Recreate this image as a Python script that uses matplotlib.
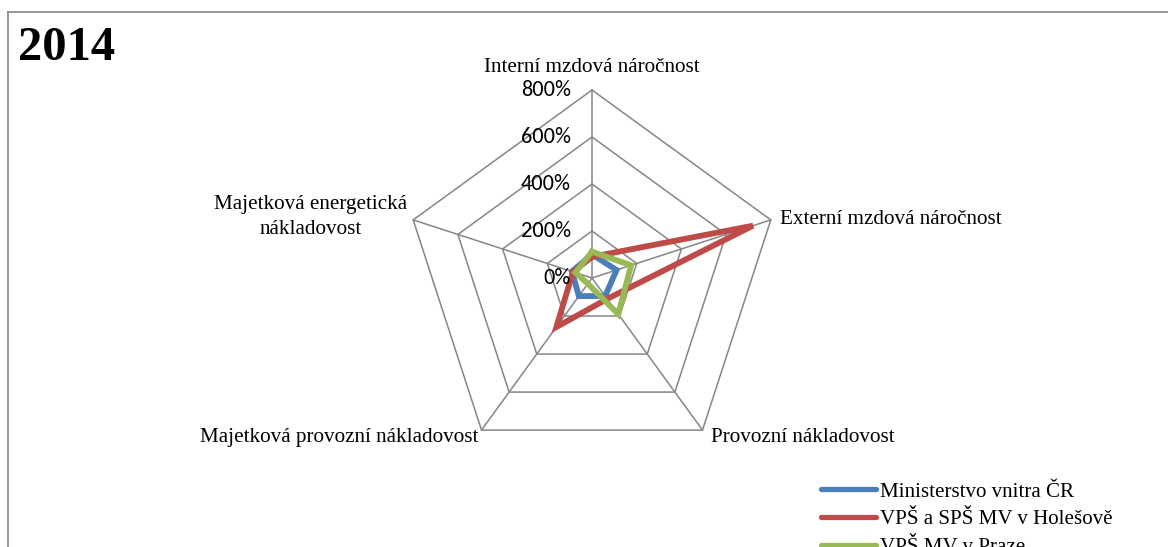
import numpy as np
import matplotlib
matplotlib.use("Agg")
import matplotlib.pyplot as plt
from matplotlib.lines import Line2D

# ---- data ----
categories = ["Interní mzdová náročnost", "Externí mzdová náročnost",
              "Provozní nákladovost", "Majetková provozní nákladovost",
              "Majetková energetická\nnákladovost"]
series_names = ["Ministerstvo vnitra ČR", "VPŠ a SPŠ MV v Holešově", "VPŠ MV v Praze"]
mv_cr = [100, 110, 95, 95, 90]
holesov = [90, 720, 110, 258, 85]
praha = [112, 175, 190, 30, 75]
ticks = [0, 200, 400, 600, 800]
tick_labels = ["0%", "200%", "400%", "600%", "800%"]
title = "2014"

colors = ["#4A7EBB", "#BE4B48", "#98B954"]
grid_color = "#868686"
serif = ["Liberation Serif", "DejaVu Serif"]
sans = ["Carlito", "Lato", "DejaVu Sans"]

W, H = 1168, 547
fig = plt.figure(figsize=(W / 100, H / 100), dpi=100)

cx, cy, R = 592, 278, 188
ax = fig.add_axes([(cx - R) / W, (H - cy - R) / H, 2 * R / W, 2 * R / H], projection="polar")
ax.set_theta_offset(np.pi / 2)
ax.set_theta_direction(-1)
ax.set_ylim(0, 800)
ax.set_axis_off()

n = len(categories)
theta = np.arange(n) * 2 * np.pi / n
theta_closed = np.append(theta, theta[0])

# polygon grid
for t in ticks[1:]:
    ax.plot(theta_closed, [t] * (n + 1), color=grid_color, lw=1.1, zorder=1, clip_on=False)
for th in theta:
    ax.plot([th, th], [0, ticks[-1]], color=grid_color, lw=1.1, zorder=1, clip_on=False)

# series
for vals, col, name in zip([mv_cr, holesov, praha], colors, series_names):
    v = list(vals) + [vals[0]]
    ax.plot(theta_closed, v, color=col, lw=4.2, label=name, zorder=3,
            solid_joinstyle="miter", clip_on=False)

# radial tick labels
for t, lab in zip(ticks, tick_labels):
    ax.annotate(lab, xy=(0, t), xytext=(-21, 0), textcoords="offset pixels",
                ha="right", va="center", fontsize=16, family=sans, zorder=4)

# category labels
offsets = [(0, 22, "center", "center"),
           (9, 0, "left", "center"),
           (8, -7, "left", "center"),
           (-3, -7, "right", "center"),
           (-6, 3, "right", "center")]
for th, lab, (dx, dy, ha, va) in zip(theta, categories, offsets):
    ax.annotate(lab, xy=(th, 800), xytext=(dx, dy), textcoords="offset pixels",
                ha=ha, va=va, fontsize=15.2, family=serif, multialignment="center",
                linespacing=1.45, annotation_clip=False)

# title
fig.text(18 / W, 1 - 48 / H, title, fontsize=35, fontweight="bold", family=serif,
         ha="left", va="center")

# border
fig.add_artist(Line2D([8 / W, 1.0], [1 - 12 / H, 1 - 12 / H], color=grid_color, lw=1.2))
fig.add_artist(Line2D([8 / W, 8 / W], [0, 1 - 12 / H], color=grid_color, lw=1.2))

# legend
handles = [Line2D([], [], color=c, lw=3.8, solid_capstyle="round") for c in colors]
fig.legend(handles, series_names, loc="upper left",
           bbox_to_anchor=(821 / W, 1 - 482 / H), frameon=False,
           prop={"family": serif, "size": 15.1}, handlelength=2.6,
           handletextpad=0.2, labelspacing=0.38, borderpad=0, borderaxespad=0)

fig.savefig("out.png", dpi=100)
